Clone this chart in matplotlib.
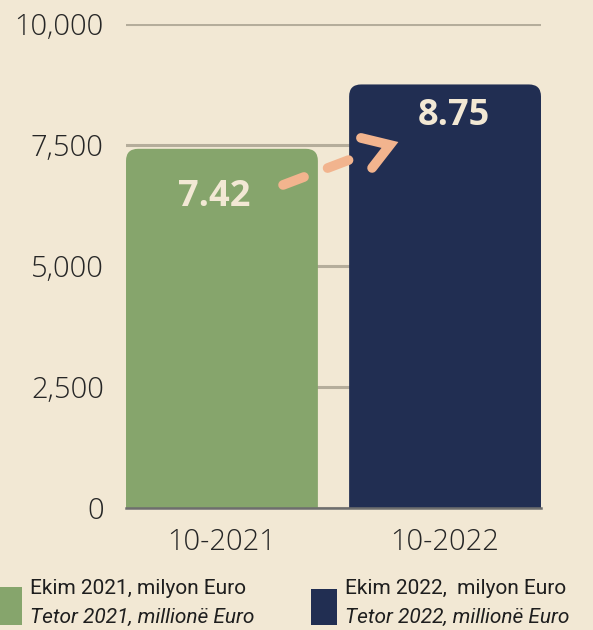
import matplotlib
matplotlib.use("Agg")
import matplotlib.pyplot as plt
from matplotlib.patches import FancyBboxPatch, Rectangle

categories = ["10-2021", "10-2022"]
values = [7420, 8750]
value_labels = ["7.42", "8.75"]
colors = ["#86a56c", "#212e52"]
legend_line1 = ["Ekim 2021, milyon Euro", "Ekim 2022,  milyon Euro"]
legend_line2 = ["Tetor 2021, millionë Euro", "Tetor 2022, millionë Euro"]
yticks = [0, 2500, 5000, 7500, 10000]

BG = "#f2e8d4"
plt.rcParams["font.family"] = ["Open Sans", "DejaVu Sans"]

fig = plt.figure(figsize=(5.93, 6.30), dpi=100, facecolor=BG)
ax = fig.add_axes([0.2125, 0.1937, 0.6998, 0.7683])
ax.set_facecolor(BG)

x = list(range(len(categories)))
width = 0.86
bars = ax.bar(x, values, width=width, color=colors, zorder=2)
ax.set_xlim(-0.43, 1.43)
ax.set_ylim(0, 10000)

# replace bars with top-rounded versions
rx = 0.054
ry = 248
for b, c in zip(bars, colors):
    x0, w, h = b.get_x(), b.get_width(), b.get_height()
    b.set_visible(False)
    p = FancyBboxPatch((x0, -600), w, h + 600,
                       boxstyle=f"round,pad=0,rounding_size={rx}",
                       mutation_aspect=ry / rx, facecolor=c, edgecolor="none",
                       zorder=2, clip_on=True)
    ax.add_patch(p)

ax.set_yticks(yticks)
ax.set_yticklabels([f"{v:,}" for v in yticks])
ax.set_xticks(x)
ax.set_xticklabels(categories)
ax.tick_params(axis="both", length=0, labelsize=21, colors="#262626")
for lab in ax.get_xticklabels() + ax.get_yticklabels():
    lab.set_fontweight("light")
ax.tick_params(axis="y", pad=16)
ax.tick_params(axis="x", pad=14)
ax.grid(axis="y", color="#b5ad9b", linewidth=2.2, zorder=0)
ax.set_axisbelow(True)
for s in ["top", "right", "left"]:
    ax.spines[s].set_visible(False)
ax.spines["bottom"].set_color("#6e6e6e")
ax.spines["bottom"].set_linewidth(1.8)
ax.spines["bottom"].set_zorder(3)

# value labels
ax.text(x[0] - 0.034, 6426, value_labels[0], ha="center", va="center",
        fontsize=26, fontweight="bold", color=BG, zorder=4)
ax.text(x[1] + 0.038, 8099, value_labels[1], ha="center", va="center",
        fontsize=26, fontweight="bold", color=BG, zorder=4)

# dashed arrow
arrow_c = "#f2b48e"
ax.plot([0.274, 0.628], [6674, 7293], color=arrow_c, lw=7, solid_capstyle="round",
        dash_capstyle="round", linestyle=(0, (2.3, 2.6)), zorder=5)
ax.plot([0.623, 0.753, 0.673], [7645, 7500, 7025], color=arrow_c, lw=7,
        solid_capstyle="round", solid_joinstyle="miter", zorder=5)

# legend
leg_font = ["Roboto", "DejaVu Sans"]
W, H = 593, 630
sq = [(0, 587, 22, 38), (311, 589, 26, 36)]
tx = [30, 345]
for i in range(2):
    x0, y0, w, h = sq[i]
    fig.patches.append(Rectangle((x0 / W, 1 - (y0 + h) / H), w / W, h / H,
                                 transform=fig.transFigure, facecolor=colors[i],
                                 edgecolor="none"))
    fig.text(tx[i] / W, 1 - 589 / H, legend_line1[i], family=leg_font,
             fontsize=15, color="#1e1e1e", ha="left", va="center")
    fig.text(tx[i] / W, 1 - 617 / H, legend_line2[i], family=leg_font,
             fontsize=15, style="italic", color="#1e1e1e", ha="left", va="center")

fig.savefig("out.png", dpi=100, facecolor=BG)
